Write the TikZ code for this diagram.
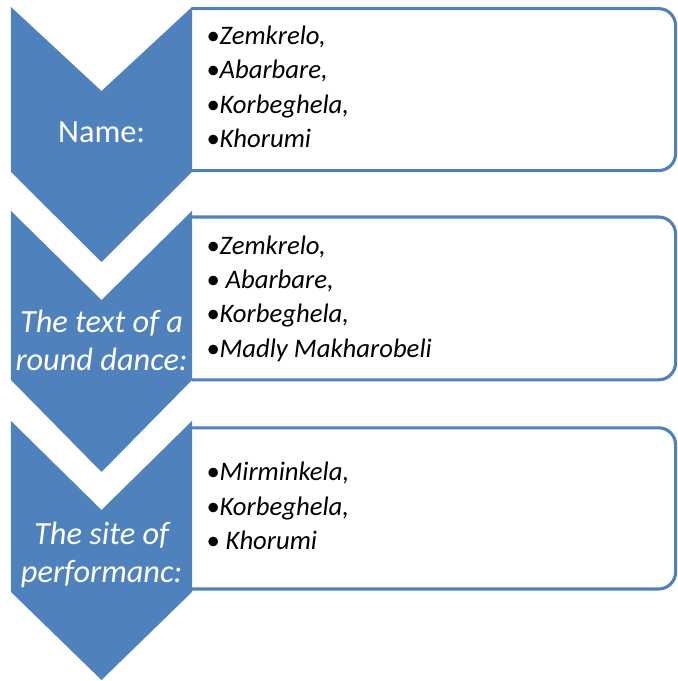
\documentclass[tikz,border=0pt]{standalone}
\usepackage{fontspec}
\setmainfont{Carlito}
\usepackage{xcolor}
\usepackage{tikz}
\definecolor{DanceBlue}{HTML}{4F81BD}

\begin{document}
\begin{tikzpicture}[x=1cm,y=1cm,
  chevfill/.style={fill=DanceBlue},
  listbox/.style={draw=DanceBlue,line width=2.2pt,fill=white,rounded corners=0.425cm},
  chevlabel/.style={anchor=center,align=center,text=white,inner sep=0pt,font=\fontsize{23}{26.7}\selectfont},
  chevitalic/.style={chevlabel,font=\fontsize{23}{26.7}\selectfont\itshape},
  itemlist/.style={anchor=west,align=left,inner sep=0pt,font=\fontsize{19}{24.5}\selectfont\itshape}]
\path[use as bounding box] (0,0) rectangle (16.95,17.025);
% boxes behind the chevrons
\draw[listbox] (4.80,16.81) -- (16.89,16.81) -- (16.89,12.76) -- (4.80,12.76);
\draw[listbox] (4.80,11.60) -- (16.89,11.60) -- (16.89,7.53) -- (4.80,7.53);
\draw[listbox] (4.80,6.33) -- (16.89,6.33) -- (16.89,2.30) -- (4.80,2.30);
% chevrons
\fill[chevfill] (0.275,16.85) -- (2.5375,14.75) -- (4.80,16.85) -- (4.80,12.725) -- (2.5375,10.475) -- (0.275,12.725) -- cycle;
\fill[chevfill] (0.275,11.75) -- (2.5375,9.525) -- (4.80,11.75) -- (4.80,7.525) -- (2.5375,5.225) -- (0.275,7.525) -- cycle;
\fill[chevfill] (0.275,6.50) -- (2.5375,4.275) -- (4.80,6.50) -- (4.80,2.225) -- (2.5375,0.025) -- (0.275,2.225) -- cycle;
% chevron labels
\node[chevlabel] (name) at (2.54,13.725) {Name:};
\node[chevitalic] (dancetext) at (2.54,8.51) {The text of a\\round dance:};
\node[chevitalic] (site) at (2.54,3.15) {The site of\\performanc:};
% lists
\node[itemlist] (names) at (5.15,14.85) {•Zemkrelo,\\•Abarbare,\\•Korbeghela,\\•Khorumi};
\node[itemlist] (texts) at (5.15,9.56) {•Zemkrelo,\\• Abarbare,\\•Korbeghela,\\•Madly Makharobeli};
\node[itemlist] (sites) at (5.15,4.375) {•Mirminkela,\\•Korbeghela,\\• Khorumi};
\end{tikzpicture}
\end{document}
